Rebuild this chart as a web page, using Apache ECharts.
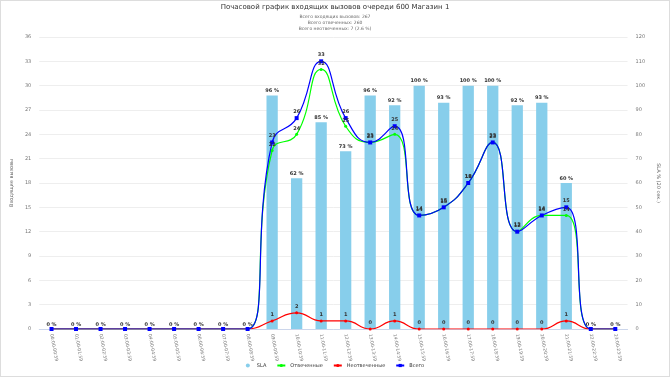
<!DOCTYPE html>
<html><head><meta charset="utf-8">
<script src="https://cdn.jsdelivr.net/npm/echarts@6/dist/echarts.min.js"></script>
<style>html,body{margin:0;padding:0;background:#fff;}#wrap{width:668px;height:375px;border:1px solid #ddd;}#c{width:668px;height:375px;}</style>
</head><body><div id="wrap"><div id="c"></div></div>
<script>
var hours = ['00','01','02','03','04','05','06','07','08','09','10','11','12','13','14','15','16','17','18','19','20','21','22','23'];
var categories = hours.map(function(h){return h+':00-'+h+':59';});
var sla =        [0,0,0,0,0,0,0,0,0,96,62,85,73,96,92,100,93,100,100,92,93,60,0,0];
var answered =   [0,0,0,0,0,0,0,0,0,22,24,32,25,23,24,14,15,18,23,12,14,14,0,0];
var unanswered = [0,0,0,0,0,0,0,0,0,1,2,1,1,0,1,0,0,0,0,0,0,1,0,0];
var total =      [0,0,0,0,0,0,0,0,0,23,26,33,26,23,25,14,15,18,23,12,14,15,0,0];
var leftTicks = [0,3,6,9,12,15,18,21,24,27,30,33,36];
var rightTicks = [0,10,20,30,40,50,60,70,80,90,100,110,120];

var chart = echarts.init(document.getElementById('c'));
function lineLabel(p){ return total[p.dataIndex] === 0 ? '' : String(p.value); }
var lblStyle = {show:true, position:'top', fontSize:5, color:'#333', fontWeight:'bold', distance:2, formatter: lineLabel};
chart.setOption({
  animation:false,
  textStyle:{fontFamily:'DejaVu Sans'},
  title:{text:'Почасовой график входящих вызовов очереди 600 Магазин 1',
    subtext:'Всего входящих вызовов: 267\nВсего отвеченных: 260\nВсего неотвеченных: 7 (2.6 %)',
    left:'center', top:-2, itemGap:3,
    textStyle:{fontSize:7, fontWeight:'normal', color:'#333', fontFamily:'DejaVu Sans'},
    subtextStyle:{fontSize:4.5, color:'#666', lineHeight:6, fontFamily:'DejaVu Sans'}},
  legend:{bottom:3, left:'center', itemWidth:8, itemHeight:4, itemGap:10,
    textStyle:{fontSize:5, color:'#333'},
    data:[{name:'SLA', icon:'circle'},{name:'Отвеченные'},{name:'Неотвеченные'},{name:'Всего'}]},
  grid:{left:24, right:26, top:36, bottom:47},
  xAxis:{type:'category', data:categories, boundaryGap:true,
    axisLine:{lineStyle:{color:'#ccd6eb'}}, axisTick:{lineStyle:{color:'#ccd6eb'}},
    axisLabel:{rotate:-80, fontSize:4.5, color:'#777', interval:0, margin:5}},
  yAxis:[
    {type:'value', min:0, max:36, interval:3, name:'Входящие вызовы', nameLocation:'middle', nameGap:15,
     nameTextStyle:{fontSize:5, color:'#666'},
     axisLabel:{fontSize:5, color:'#777', margin:8}, splitLine:{lineStyle:{color:'#eee'}}},
    {type:'value', min:0, max:120, interval:10, name:'SLA % (20 сек.)', nameLocation:'middle', nameGap:17, nameRotate:-90,
     nameTextStyle:{fontSize:5, color:'#666'},
     axisLabel:{fontSize:5, color:'#777', margin:8}, splitLine:{show:false}}
  ],
  series:[
    {name:'SLA', type:'bar', yAxisIndex:1, data:sla, barWidth:'46%',
     itemStyle:{color:'#87ceeb'},
     label:{show:true, position:'top', fontSize:5, fontWeight:'bold', color:'#333', distance:2, formatter:'{c} %'}},
    {name:'Отвеченные', type:'line', smooth:true, data:answered, symbol:'circle', symbolSize:3,
     lineStyle:{color:'#00ff00', width:1.2}, itemStyle:{color:'#00ff00'}, label:lblStyle},
    {name:'Неотвеченные', type:'line', smooth:true, data:unanswered, symbol:'circle', symbolSize:3,
     lineStyle:{color:'#ff0000', width:1.2}, itemStyle:{color:'#ff0000'}, label:lblStyle},
    {name:'Всего', type:'line', smooth:true, data:total, symbol:'rect', symbolSize:4,
     lineStyle:{color:'#0000ff', width:1.2}, itemStyle:{color:'#0000ff'}, label:lblStyle}
  ]
});
</script></body></html>
